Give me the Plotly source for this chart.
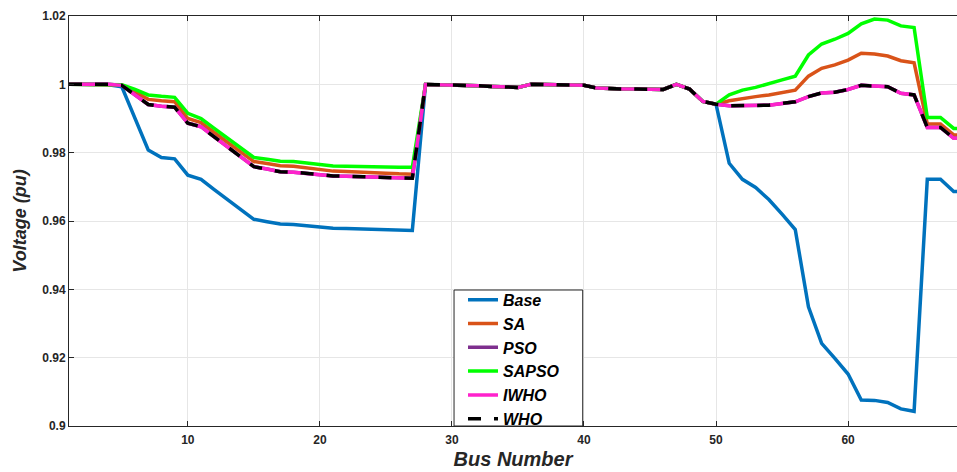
import plotly.graph_objects as go

bus = list(range(1, 70))

base = [1.0, 1.0, 0.99997, 0.9999, 0.9993, 0.9901, 0.9808, 0.9786, 0.9782, 0.9734,
        0.9722, 0.9692, 0.9662, 0.9633, 0.9605, 0.9598, 0.9591, 0.9590, 0.9586, 0.9583,
        0.9579, 0.9578, 0.9577, 0.9576, 0.9574, 0.9573, 0.9572, 0.99995, 0.9999, 0.9997,
        0.9997, 0.9996, 0.9994, 0.9992, 0.9991, 1.0, 0.9999, 0.9998, 0.9998, 0.9997,
        0.9989, 0.9987, 0.9986, 0.9986, 0.9985, 0.9985, 1.0, 0.9986, 0.9950, 0.9942,
        0.9769, 0.9722, 0.9698, 0.9663, 0.9620, 0.9575, 0.9349, 0.9242, 0.9198, 0.9152,
        0.9076, 0.9075, 0.9069, 0.9050, 0.9043, 0.9722, 0.9722, 0.9686, 0.9686]

sa = [1.0, 1.0, 1.0, 1.0, 0.9998, 0.9978, 0.9956, 0.9952, 0.9949, 0.9900,
      0.9888, 0.9859, 0.9830, 0.9802, 0.9774, 0.9768, 0.9762, 0.9760, 0.9756, 0.9752,
      0.9746, 0.9745, 0.9744, 0.9742, 0.9740, 0.9738, 0.9737, 0.99995, 0.9999, 0.9997,
      0.9997, 0.9996, 0.9994, 0.9992, 0.9991, 1.0, 0.9999, 0.9998, 0.9998, 0.9997,
      0.9989, 0.9987, 0.9986, 0.9986, 0.9985, 0.9985, 1.0, 0.9986, 0.9950, 0.9942,
      0.9952, 0.9959, 0.9964, 0.9969, 0.9975, 0.9983, 1.0024, 1.0047, 1.0057, 1.0071,
      1.0091, 1.0089, 1.0083, 1.0069, 1.0063, 0.9884, 0.9884, 0.9852, 0.9852]

who = [1.0, 1.0, 1.0, 1.0, 0.9997, 0.9970, 0.9941, 0.9936, 0.9933, 0.9886,
       0.9876, 0.9846, 0.9816, 0.9787, 0.9759, 0.9752, 0.9744, 0.9743, 0.9739, 0.9736,
       0.9732, 0.9731, 0.9730, 0.9728, 0.9727, 0.9726, 0.9725, 0.99995, 0.9999, 0.9997,
       0.9997, 0.9996, 0.9994, 0.9992, 0.9991, 1.0, 0.9999, 0.9998, 0.9998, 0.9997,
       0.9989, 0.9987, 0.9986, 0.9986, 0.9985, 0.9985, 1.0, 0.9986, 0.9950, 0.9942,
       0.9937, 0.9938, 0.9938, 0.9939, 0.9944, 0.9949, 0.9964, 0.9975, 0.9977, 0.9985,
       0.9997, 0.9995, 0.9993, 0.9974, 0.9969, 0.9874, 0.9874, 0.9842, 0.9842]

pso = list(who)
iwho = list(who)

sapso = [1.0, 1.0, 1.0, 1.0, 0.9999, 0.9985, 0.9969, 0.9965, 0.9962, 0.9915,
         0.9900, 0.9871, 0.9843, 0.9814, 0.9786, 0.9781, 0.9775, 0.9774, 0.9770, 0.9766,
         0.9761, 0.9760, 0.9760, 0.9759, 0.9758, 0.9757, 0.9757, 0.99995, 0.9999, 0.9997,
         0.9997, 0.9996, 0.9994, 0.9992, 0.9991, 1.0, 0.9999, 0.9998, 0.9998, 0.9997,
         0.9989, 0.9987, 0.9986, 0.9986, 0.9985, 0.9985, 1.0, 0.9986, 0.9950, 0.9942,
         0.9969, 0.9983, 0.9991, 1.0001, 1.0013, 1.0024, 1.0086, 1.0118, 1.0132, 1.0149,
         1.0177, 1.0191, 1.0188, 1.0171, 1.0166, 0.9903, 0.9903, 0.9871, 0.9871]

x_ticks = [10, 20, 30, 40, 50, 60]
y_ticks = [0.9, 0.92, 0.94, 0.96, 0.98, 1.0, 1.02]
y_labels = ["0.9", "0.92", "0.94", "0.96", "0.98", "1", "1.02"]

series = [
    ("Base", base, "#0072BD", "solid"),
    ("SA", sa, "#D95319", "solid"),
    ("PSO", pso, "#7E2F8E", "solid"),
    ("SAPSO", sapso, "#00FF00", "solid"),
    ("IWHO", iwho, "#FF22CC", "solid"),
    ("WHO", who, "#000000", "13px,13px"),
]

fig = go.Figure()
for name, vals, color, dash in series:
    fig.add_trace(go.Scatter(x=bus, y=vals, mode="lines", name=name,
                             line=dict(color=color, width=3.5, dash=dash)))

font_family = "Liberation Sans, Arial, sans-serif"

# legend box (drawn as a shape so its size can match the reference)
fig.add_shape(type="rect", xref="paper", yref="paper",
              x0=0.4336, x1=0.5785, y0=0.0, y1=0.3317,
              line=dict(color="#262626", width=1), fillcolor="white", layer="above")

fig.update_layout(
    width=957, height=472,
    margin=dict(l=69, r=0, t=16, b=46),
    paper_bgcolor="white", plot_bgcolor="white",
    font=dict(family=font_family, color="#262626"),
    showlegend=True,
    legend=dict(
        x=0.4437, y=0.3493, xanchor="left", yanchor="top",
        bgcolor="rgba(0,0,0,0)", borderwidth=0,
        font=dict(family=font_family, size=16, color="#000000", style="italic", weight="bold"),
        tracegroupgap=0, itemwidth=30,
    ),
)
fig.update_xaxes(
    range=[1, 68.25], tickvals=x_ticks, ticks="inside", ticklen=5,
    tickcolor="#262626", showline=True, linecolor="#262626", linewidth=1,
    mirror="ticks", showgrid=True, gridcolor="#E6E6E6", gridwidth=1,
    zeroline=False, ticklabelstandoff=3,
    tickfont=dict(family=font_family, size=12, color="#262626", weight="bold"),
    title=dict(text="Bus Number", standoff=5,
               font=dict(family=font_family, size=20, color="#262626", style="italic", weight="bold")),
)
fig.update_yaxes(
    range=[0.9, 1.02], tickvals=y_ticks, ticktext=y_labels, ticks="inside", ticklen=5,
    tickcolor="#262626", showline=True, linecolor="#262626", linewidth=1,
    mirror=False, showgrid=True, gridcolor="#E6E6E6", gridwidth=1,
    zeroline=False,
    tickfont=dict(family=font_family, size=12, color="#262626", weight="bold"),
    title=dict(text="Voltage (pu)", standoff=10,
               font=dict(family=font_family, size=18, color="#262626", style="italic", weight="bold")),
)

fig.write_html("out.html")
